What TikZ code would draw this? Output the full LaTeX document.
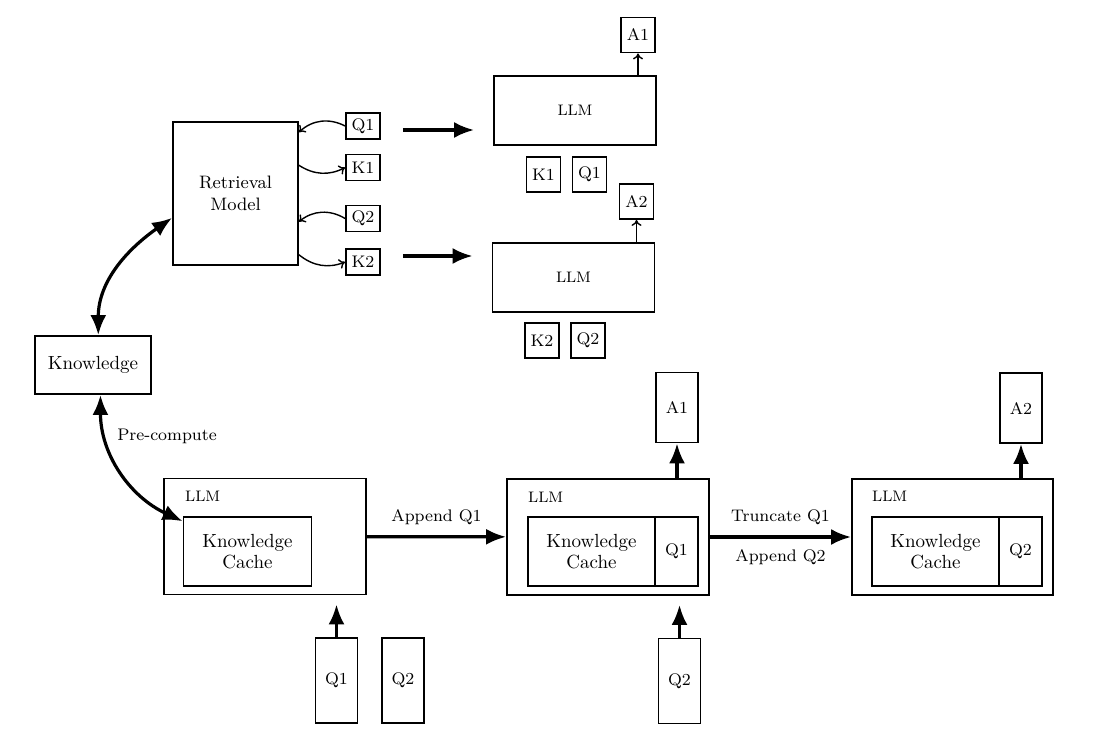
\documentclass[tikz,border=0pt]{standalone}
\usetikzlibrary{arrows.meta,positioning}
\begin{document}
\begin{tikzpicture}[x=0.5pt,y=-0.5pt,
        box/.style={draw,line width=0.9pt,inner sep=0pt,align=center},
        big text/.style={font=\fontsize{9.5}{10.5}\selectfont},
        mid text/.style={font=\fontsize{9}{11}\selectfont},
        small text/.style={font=\fontsize{8.4}{9.5}\selectfont},
        tiny text/.style={font=\fontsize{7.6}{8.5}\selectfont},
        tok/.style={box,small text,minimum width=17pt,minimum height=13pt},
        tok sq/.style={box,small text,minimum width=17pt,minimum height=17.5pt},
        tall tok/.style={box,small text,minimum width=21pt,minimum height=35pt},
        llm top/.style={box,tiny text,minimum width=81pt,minimum height=34.5pt},
        llm big/.style={box,minimum width=101pt,minimum height=58pt},
        cache/.style={box,big text,minimum width=64pt,minimum height=34.5pt},
        cell/.style={box,small text,minimum width=21.5pt,minimum height=34.5pt},
        thin arrow/.style={-{To[length=3pt,width=5pt]},line width=0.7pt},
        fat arrow/.style={-{Latex[length=10pt,width=8pt]},line width=1.6pt},
        both arrow/.style={{Latex[length=10pt,width=8pt]}-{Latex[length=10pt,width=8pt]},line width=1.6pt}]

        \useasboundingbox (0,0) rectangle (1103,738);

        % Retrieval path
        \node[box,mid text,minimum width=62.5pt,minimum height=71.5pt] (rm) at (235.5,193.5) {Retrieval\\Model};
        \node[tok] (q1s) at (363,126) {Q1};
        \node[tok] (k1s) at (363,167.5) {K1};
        \node[tok] (q2s) at (363,218.5) {Q2};
        \node[tok] (k2s) at (363,262) {K2};

        \node[llm top] (llmA) at (575,110.5) {LLM};
        \node[tok sq] (a1s) at (638,35) {A1};
        \node[tok sq] (k1b) at (543.5,174.5) {K1};
        \node[tok sq] (q1b) at (589.5,174.5) {Q1};

        \node[llm top] (llmB) at (573.5,277.5) {LLM};
        \node[tok sq] (a2s) at (636.5,201.5) {A2};
        \node[tok sq] (k2b) at (542,340.5) {K2};
        \node[tok sq] (q2b) at (588,340.5) {Q2};

        \draw[thin arrow] (q1s.west) to[bend right=35] (rm.44);
        \draw[thin arrow] (rm.24) to[bend right=30] (k1s.west);
        \draw[thin arrow] (q2s.west) to[bend right=35] (rm.-24);
        \draw[thin arrow] (rm.-44) to[bend right=30] (k2s.west);

        \coordinate (s1) at ([yshift=-2pt]q1s.east);
        \coordinate (s2) at ([yshift=3pt]k2s.east);
        \draw[fat arrow,shorten <=11pt,shorten >=9.5pt] (s1) -- (s1 -| llmA.west);
        \draw[fat arrow,shorten <=11pt,shorten >=9.5pt] (s2) -- (s2 -| llmB.west);

        \draw[thin arrow] (a1s.south |- llmA.north) -- (a1s.south);
        \draw[thin arrow] (a2s.south |- llmB.north) -- (a2s.south);

        % Knowledge
        \node[box,big text,minimum width=58pt,minimum height=29pt] (kn) at (93,365) {Knowledge};

        % Cache path
        \node[llm big] (llm1) at (265,536.5) {};
        \node[tiny text,anchor=west] at ([xshift=7.5pt,yshift=-9.5pt]llm1.north west) {LLM};
        \node[cache] (kc1) at (247.5,551.5) {Knowledge\\Cache};

        \node[llm big] (llm2) at (608,537) {};
        \node[tiny text,anchor=west] at ([xshift=7.5pt,yshift=-9.5pt]llm2.north west) {LLM};
        \node[cache,minimum width=63.5pt] (kc2) at (591.5,551.5) {Knowledge\\Cache};
        \node[cell] (qc2) at (676.5,551.5) {Q1};

        \node[llm big,minimum width=100.5pt] (llm3) at (952.5,537) {};
        \node[tiny text,anchor=west] at ([xshift=7pt,yshift=-9pt]llm3.north west) {LLM};
        \node[cache,minimum width=63.5pt] (kc3) at (935.5,551.5) {Knowledge\\Cache};
        \node[cell] (qc3) at (1020.5,551.5) {Q2};

        \node[tall tok] (ta1) at (677,407.5) {A1};
        \node[tall tok] (ta2) at (1021,408) {A2};
        \node[tall tok,minimum height=42.5pt] (tq1) at (336.5,680.5) {Q1};
        \node[tall tok,minimum height=42.5pt] (tq2) at (403,680.5) {Q2};
        \node[tall tok,minimum height=42.5pt] (tq3) at (679.5,681) {Q2};

        \draw[both arrow] (kn.80) to[out=90,in=215] (rm.201);
        \draw[both arrow] (kn.-76) to[out=-90,in=155] (kc1.155);
        \node[small text] (pc) at (167,436) {Pre-compute};

        \draw[fat arrow] (llm1) -- node[small text,above=2pt] {Append Q1} (llm2);
        \draw[fat arrow] (llm2) -- node[small text,above=2pt] {Truncate Q1}
            node[small text,below=2pt] {Append Q2} (llm3);

        \draw[fat arrow] (ta1.south |- llm2.north) -- (ta1.south);
        \draw[fat arrow] (ta2.south |- llm3.north) -- (ta2.south);
        \draw[fat arrow,shorten >=4.5pt] (tq1.north) -- (tq1.north |- llm1.south);
        \draw[fat arrow,shorten >=4.5pt] (tq3.north) -- (tq3.north |- llm2.south);

        \end{tikzpicture}
\end{document}
